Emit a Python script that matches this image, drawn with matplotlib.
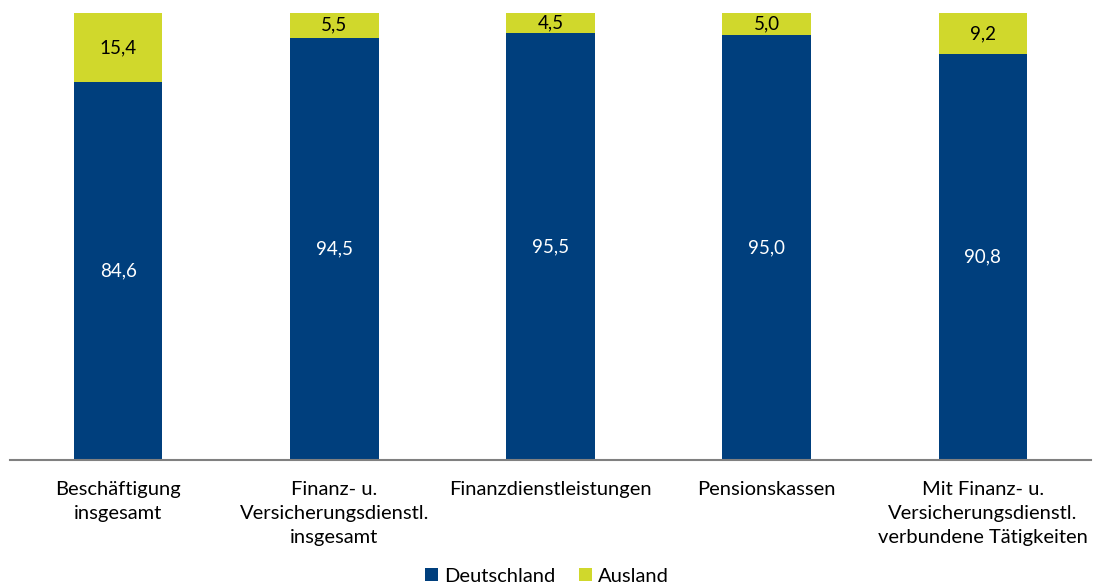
import matplotlib.pyplot as plt
import numpy as np

plt.rcParams['font.family'] = ['Lato', 'DejaVu Sans']

kategorien = ["Beschäftigung\ninsgesamt",
              "Finanz- u.\nVersicherungsdienstl.\ninsgesamt",
              "Finanzdienstleistungen",
              "Pensionskassen",
              "Mit Finanz- u.\nVersicherungsdienstl.\nverbundene Tätigkeiten"]
deutschland = [84.6, 94.5, 95.5, 95.0, 90.8]
ausland = [15.4, 5.5, 4.5, 5.0, 9.2]

blau = '#003f7d'
gelb = '#d0d82c'

fig = plt.figure(figsize=(10.94, 5.85), dpi=100)
ax = fig.add_axes([10/1094, 1-460/585, 1081/1094, 447/585])

x = np.arange(len(kategorien))
b1 = ax.bar(x, deutschland, width=0.41, color=blau, label="Deutschland")
b2 = ax.bar(x, ausland, width=0.41, bottom=deutschland, color=gelb, label="Ausland")

fmt = lambda v: f"{v:.1f}".replace('.', ',')
for i in range(len(x)):
    ax.text(x[i], deutschland[i]/2, fmt(deutschland[i]), ha='center', va='center',
            color='white', fontsize=13.5)
    ax.text(x[i], deutschland[i] + ausland[i]/2, fmt(ausland[i]), ha='center', va='center',
            color='black', fontsize=13.5)

ax.set_xlim(-0.5, 4.5)
ax.set_ylim(0, 100)
ax.set_xticks(x)
ax.set_xticklabels(kategorien, fontsize=14.5, linespacing=1.5)
ax.tick_params(axis='x', length=0, pad=15)
ax.set_yticks([])
for s in ['top', 'right', 'left']:
    ax.spines[s].set_visible(False)
ax.spines['bottom'].set_color('#808080')
ax.spines['bottom'].set_linewidth(1.5)

fig.legend(handles=[b1, b2], loc='center', bbox_to_anchor=(547/1094, 1-576/585), ncol=2,
           frameon=False, fontsize=14.5, handlelength=0.65, handleheight=0.65,
           handletextpad=0.3, columnspacing=1.2)

fig.savefig('out.png', dpi=100)
